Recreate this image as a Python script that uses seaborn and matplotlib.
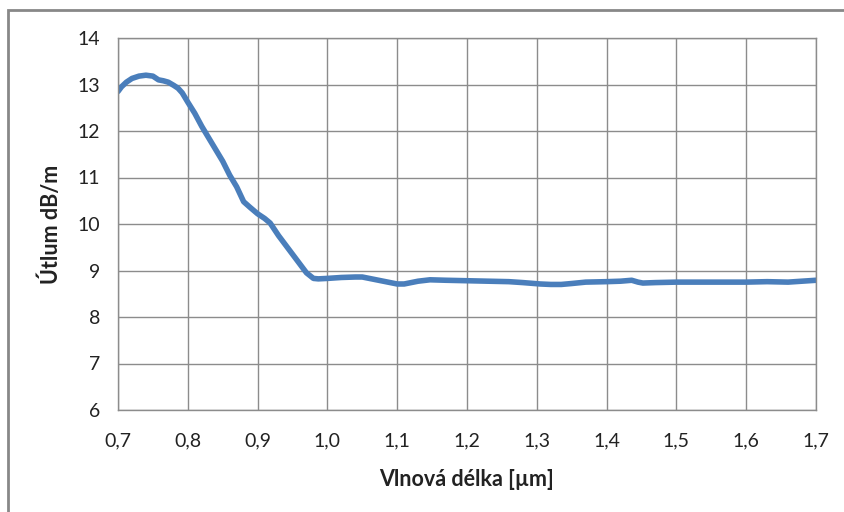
import matplotlib
matplotlib.use("Agg")
import matplotlib.pyplot as plt
import seaborn as sns
import pandas as pd
from matplotlib.patches import Rectangle
from matplotlib.ticker import FuncFormatter, MultipleLocator

wavelength = [0.700, 0.705, 0.712, 0.720, 0.730, 0.740, 0.750, 0.758, 0.765, 0.772, 0.780, 0.786,
              0.792, 0.800, 0.810, 0.820, 0.830, 0.840, 0.850, 0.860, 0.870, 0.880, 0.889,
              0.900, 0.910, 0.918, 0.930, 0.945, 0.960, 0.970, 0.980, 0.987, 1.000, 1.020,
              1.040, 1.050, 1.060, 1.080, 1.100, 1.110, 1.130, 1.147, 1.170, 1.200, 1.230,
              1.260, 1.280, 1.305, 1.320, 1.335, 1.350, 1.370, 1.400, 1.420, 1.436, 1.445,
              1.452, 1.470, 1.500, 1.530, 1.560, 1.600, 1.630, 1.660, 1.680, 1.700]
attenuation = [12.85, 12.95, 13.05, 13.13, 13.18, 13.20, 13.18, 13.10, 13.08, 13.05, 12.98, 12.92,
               12.82, 12.62, 12.38, 12.10, 11.85, 11.60, 11.35, 11.05, 10.80, 10.48, 10.36,
               10.22, 10.12, 10.02, 9.75, 9.45, 9.15, 8.95, 8.83, 8.82, 8.83, 8.85,
               8.86, 8.86, 8.83, 8.77, 8.71, 8.71, 8.77, 8.80, 8.79, 8.78, 8.77,
               8.76, 8.74, 8.71, 8.70, 8.70, 8.72, 8.75, 8.76, 8.77, 8.79, 8.75,
               8.73, 8.74, 8.75, 8.75, 8.75, 8.75, 8.76, 8.75, 8.77, 8.79]

xlabel = "Vlnová délka [µm]"
ylabel = "Útlum dB/m"

df = pd.DataFrame({"x": wavelength, "y": attenuation})

sns.set_style("white")
plt.rcParams["font.family"] = ["Lato", "DejaVu Sans"]

fig = plt.figure(figsize=(8.45, 5.12), dpi=100)
ax = fig.add_axes([118/845, 1 - 410/512, (816 - 118)/845, (410 - 38)/512])

sns.lineplot(data=df, x="x", y="y", ax=ax, color="#4A7EBB", linewidth=4.0,
             solid_capstyle="round", solid_joinstyle="round")

ax.set_xlim(0.7, 1.7)
ax.set_ylim(6, 14)
ax.xaxis.set_major_locator(MultipleLocator(0.1))
ax.yaxis.set_major_locator(MultipleLocator(1))
ax.xaxis.set_major_formatter(FuncFormatter(lambda v, p: f"{v:.1f}".replace(".", ",")))
ax.yaxis.set_major_formatter(FuncFormatter(lambda v, p: f"{v:.0f}"))

gcol = "#8C8C8C"
ax.grid(True, color=gcol, linewidth=1.0)
ax.set_axisbelow(True)
for s in ax.spines.values():
    s.set_color(gcol)
    s.set_linewidth(1.0)
ax.tick_params(axis="both", which="both", direction="out", length=7, width=1.0,
               color=gcol, labelsize=14, labelcolor="#222222")
ax.tick_params(axis="x", pad=9)
ax.tick_params(axis="y", pad=6)

ax.set_xlabel(xlabel, fontsize=15.5, fontweight="bold", color="#222222", labelpad=14)
ax.set_ylabel(ylabel, fontsize=15.5, fontweight="bold", color="#222222", labelpad=11)

fig.patches.append(Rectangle((8/845, -0.2), 1.2, 1.2 - 10/512, transform=fig.transFigure,
                             fill=False, edgecolor="#888888", linewidth=2.0, clip_on=False))

fig.savefig("out.png", dpi=100)
